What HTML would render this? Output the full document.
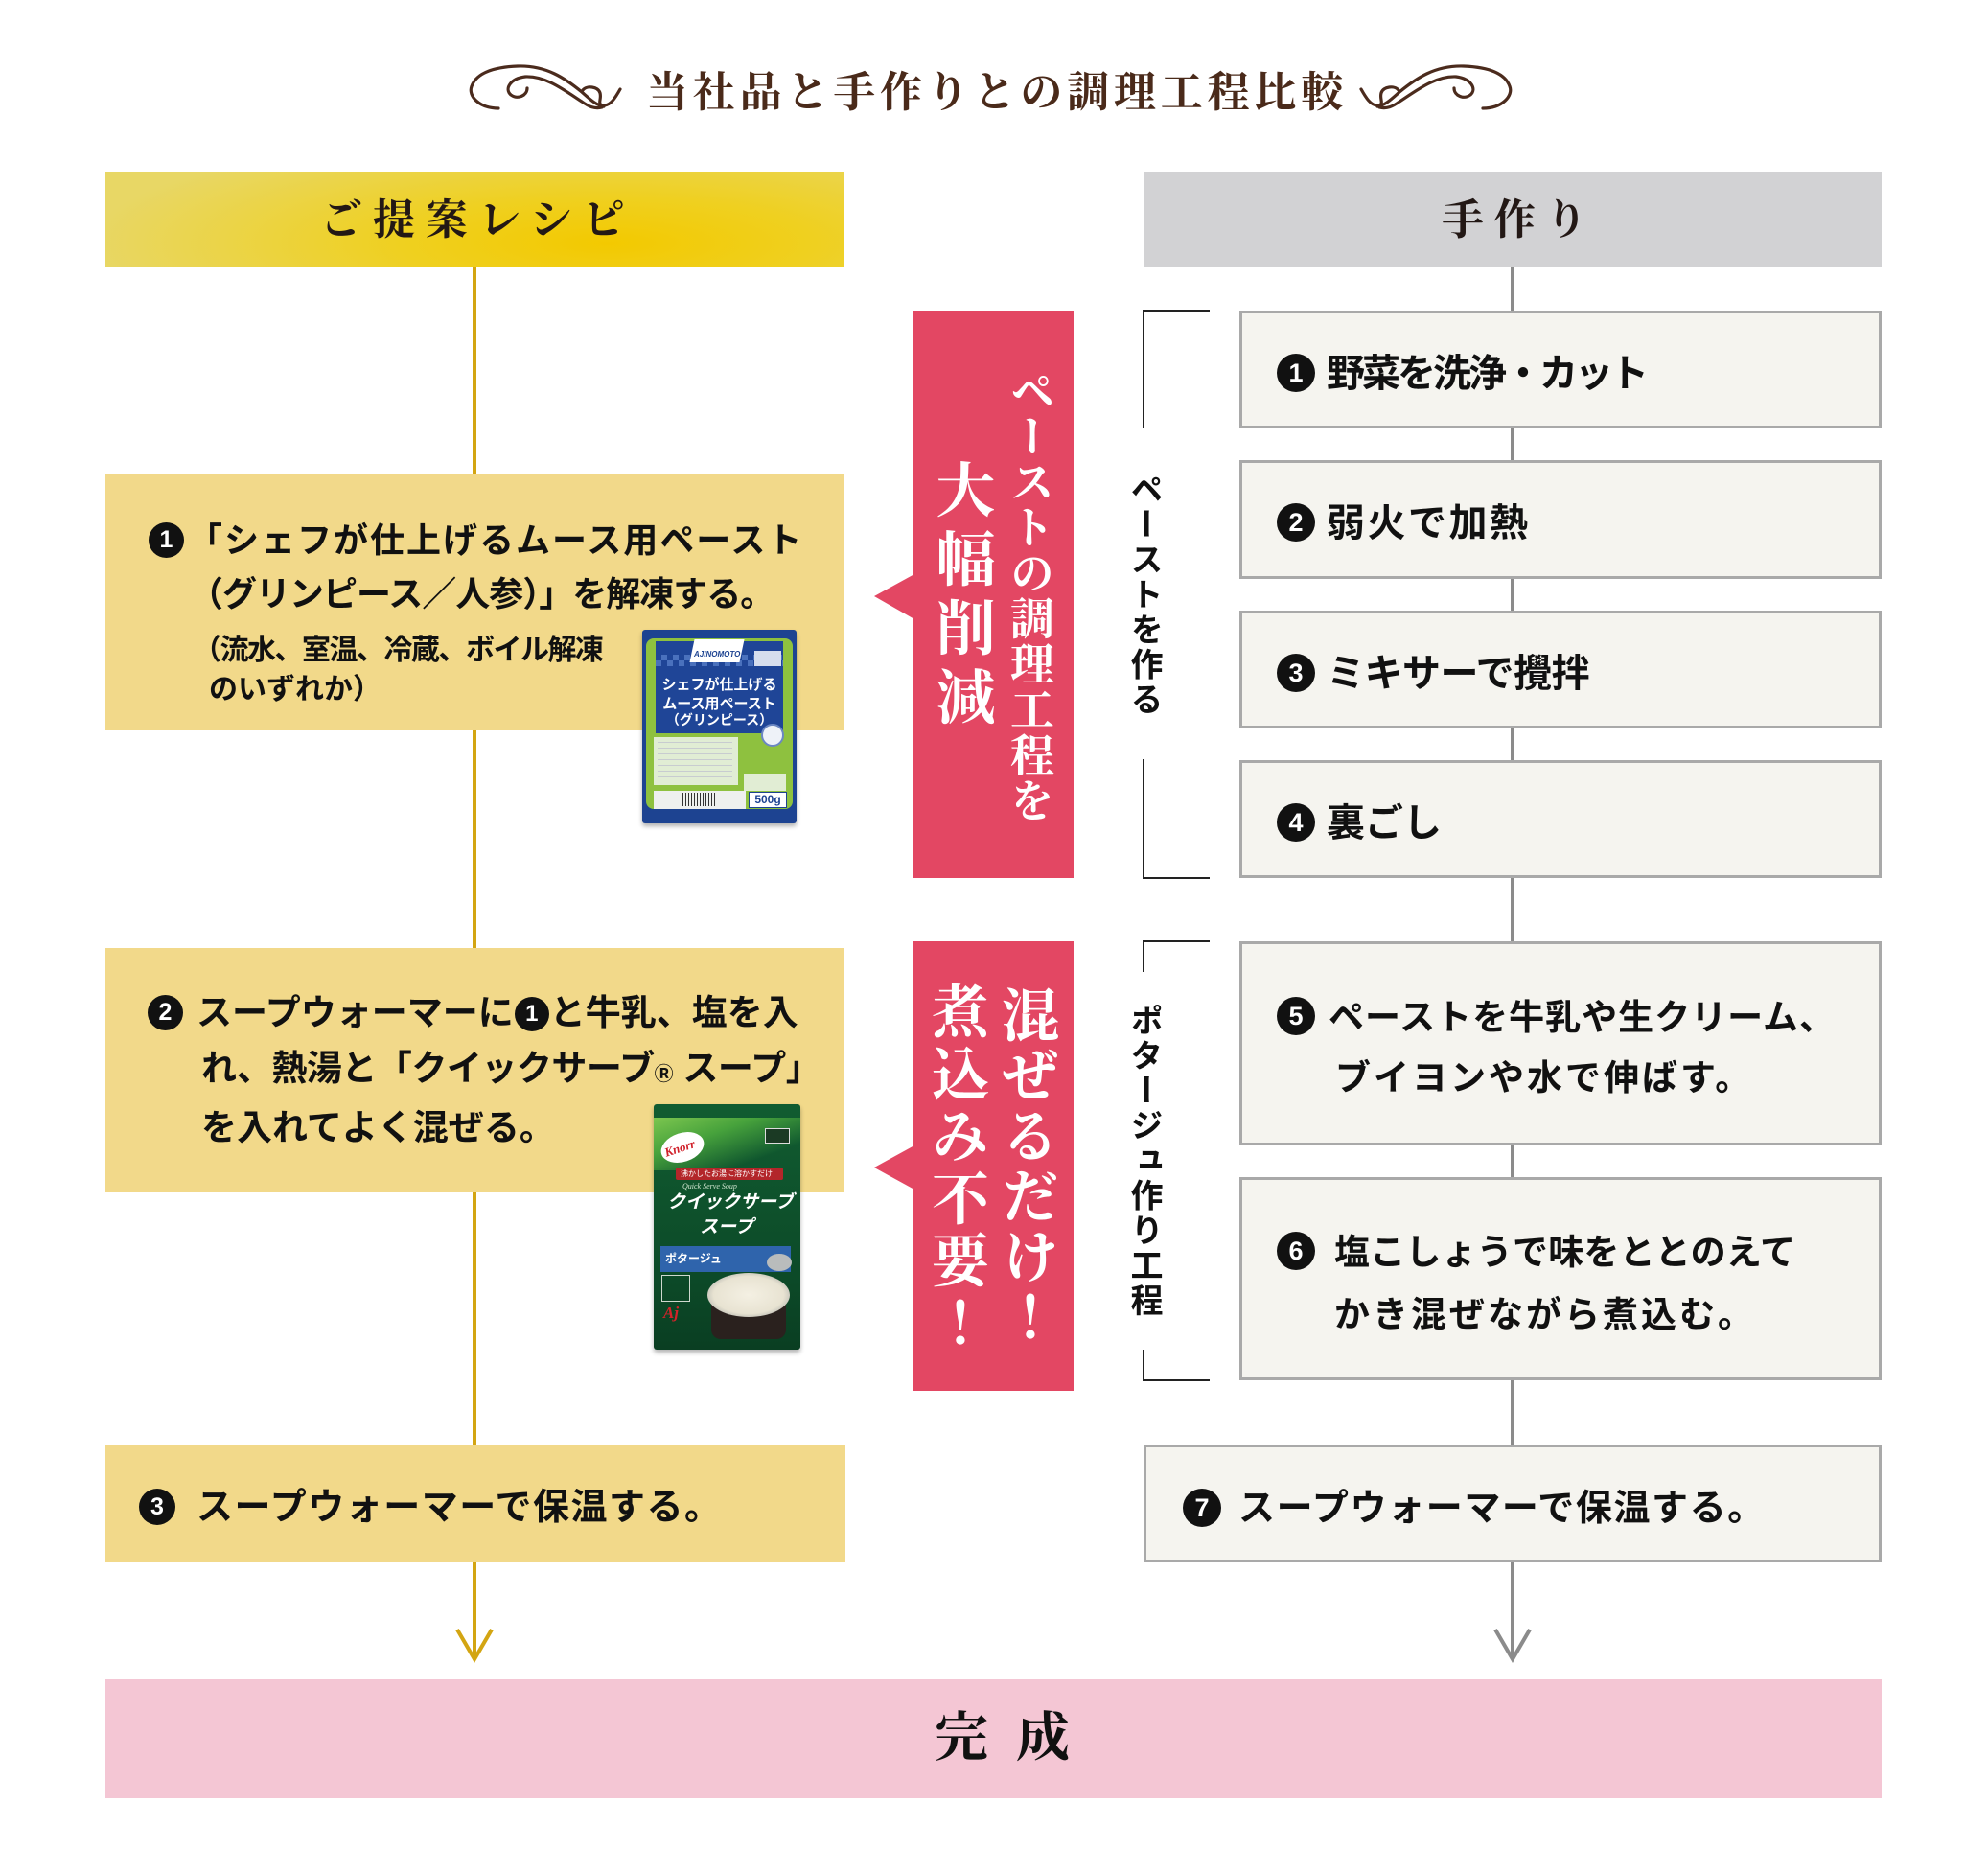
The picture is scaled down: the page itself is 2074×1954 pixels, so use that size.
<!DOCTYPE html>
<html lang="ja">
<head>
<meta charset="utf-8">
<style>
  html,body{margin:0;padding:0;background:#fff;}
  #wrap{position:relative;width:2074px;height:1954px;overflow:hidden;background:#fff;}
  .abs{position:absolute;}
  .box{position:absolute;box-sizing:border-box;}
  .t{position:absolute;white-space:nowrap;font-family:"Liberation Sans","Noto Sans CJK JP",sans-serif;font-weight:700;color:#111;}
  .s{position:absolute;white-space:nowrap;font-family:"Liberation Serif","Noto Serif CJK SC",serif;font-weight:700;}
  .v{position:absolute;writing-mode:vertical-rl;white-space:nowrap;}
  .rb{position:absolute;box-sizing:border-box;background:#f5f4ef;border:3px solid #a9a9a9;}
  .c{position:absolute;border-radius:50%;background:#111;color:#fff;text-align:center;font-family:"Liberation Sans",sans-serif;font-weight:700;}
  .ci{display:inline-block;border-radius:50%;background:#111;color:#fff;text-align:center;font-family:"Liberation Sans",sans-serif;font-weight:700;vertical-align:4px;margin:0 1px;}
</style>
</head>
<body>
<div id="wrap">

<svg class="abs" style="left:0;top:0" width="2074" height="1954" viewBox="0 0 2074 1954">
  <line x1="495" y1="279" x2="495" y2="1728" stroke="#d3a512" stroke-width="4"/>
  <polyline points="477,1700 495,1731 513,1700" fill="none" stroke="#d3a512" stroke-width="4"/>
  <line x1="1578" y1="279" x2="1578" y2="1728" stroke="#8b8b8b" stroke-width="4"/>
  <polyline points="1560,1700 1578,1731 1596,1700" fill="none" stroke="#8b8b8b" stroke-width="4"/>

  <polyline points="1262,324 1193,324 1193,446" fill="none" stroke="#222" stroke-width="2"/>
  <polyline points="1193,792 1193,916 1262,916" fill="none" stroke="#222" stroke-width="2"/>
  <polyline points="1262,982 1193,982 1193,1014" fill="none" stroke="#222" stroke-width="2"/>
  <polyline points="1193,1408 1193,1440 1262,1440" fill="none" stroke="#222" stroke-width="2"/>

  <polygon points="912,622 954,599 954,646" fill="#e34763"/>
  <polygon points="912,1218 954,1195 954,1241" fill="#e34763"/>

  <g fill="none" stroke="#4b2b1d" stroke-width="3.2" stroke-linecap="round">
    <path d="M 520,113 C 500,113 488,100 492,90 C 497,76 515,70 540,69 C 570,68 590,82 607,96 C 615,103 622,110 630,111"/>
    <path d="M 550,92 C 550,100 540,104 533,99 C 526,93 532,82 548,80 C 570,79 590,95 607,106 C 614,111 620,114 628,112"/>
    <path d="M 608,94 C 612,89 624,90 626,97 C 628,104 622,109 630,110 C 637,110 642,102 647,93"/>
  </g>
  <g transform="translate(2067,0) scale(-1,1)" fill="none" stroke="#4b2b1d" stroke-width="3.2" stroke-linecap="round">
    <path d="M 520,113 C 500,113 488,100 492,90 C 497,76 515,70 540,69 C 570,68 590,82 607,96 C 615,103 622,110 630,111"/>
    <path d="M 550,92 C 550,100 540,104 533,99 C 526,93 532,82 548,80 C 570,79 590,95 607,106 C 614,111 620,114 628,112"/>
    <path d="M 608,94 C 612,89 624,90 626,97 C 628,104 622,109 630,110 C 637,110 642,102 647,93"/>
  </g>
</svg>

<!-- title -->
<div class="s" style="left:674px;top:75px;font-size:44px;line-height:44px;letter-spacing:4.8px;color:#4a2a1a;">当社品と手作りとの調理工程比較</div>

<!-- headers -->
<div class="box" style="left:110px;top:179px;width:771px;height:100px;background:radial-gradient(ellipse 70% 120% at 68% 75%, #f3c900 0%, #efd020 40%, #e8d765 100%);"></div>
<div class="box" style="left:1193px;top:179px;width:770px;height:100px;background:#d2d2d4;"></div>
<div class="s" style="left:334px;top:208px;font-size:44px;line-height:44px;letter-spacing:11px;color:#231815;">ご提案レシピ</div>
<div class="s" style="left:1504px;top:208px;font-size:44px;line-height:44px;letter-spacing:10px;color:#231815;">手作り</div>

<!-- left boxes -->
<div class="box" style="left:110px;top:494px;width:771px;height:268px;background:#f2d98a;"></div>
<div class="box" style="left:110px;top:989px;width:771px;height:255px;background:#f2d98a;"></div>
<div class="box" style="left:110px;top:1507px;width:772px;height:123px;background:#f2d98a;"></div>

<!-- left box 1 text -->
<div class="c" style="left:155px;top:545px;width:37px;height:37px;line-height:37px;font-size:25px;">1</div>
<div class="t" style="left:196px;top:546px;font-size:36px;line-height:36px;letter-spacing:2px;">「シェフが仕上げるムース用ペースト</div>
<div class="t" style="left:197px;top:602px;font-size:36px;line-height:36px;letter-spacing:-1px;">（グリンピース／人参）」を解凍する。</div>
<div class="t" style="left:201px;top:664px;font-size:30px;line-height:30px;letter-spacing:-1.5px;">（流水、室温、冷蔵、ボイル解凍</div>
<div class="t" style="left:218px;top:705px;font-size:30px;line-height:30px;">のいずれか）</div>

<!-- left box 2 text -->
<div class="c" style="left:154px;top:1038px;width:37px;height:37px;line-height:37px;font-size:25px;">2</div>
<div class="t" style="left:205px;top:1038px;font-size:37px;line-height:37px;">スープウォーマーに<span class="ci" style="width:36px;height:36px;line-height:36px;font-size:24px;">1</span>と牛乳、塩を入</div>
<div class="t" style="left:210px;top:1096px;font-size:37px;line-height:37px;letter-spacing:-0.5px;">れ、熱湯と「クイックサーブ<span style="font-size:20px;letter-spacing:0;">Ⓡ</span> スープ」</div>
<div class="t" style="left:210px;top:1158px;font-size:37px;line-height:37px;">を入れてよく混ぜる。</div>

<!-- left box 3 text -->
<div class="c" style="left:145px;top:1553px;width:38px;height:38px;line-height:38px;font-size:25px;">3</div>
<div class="t" style="left:205px;top:1554px;font-size:38px;line-height:38px;letter-spacing:1.5px;">スープウォーマーで保温する。</div>

<!-- Ajinomoto package -->
<div class="abs" style="left:670px;top:657px;width:161px;height:202px;background:#1d4391;border-radius:3px;box-shadow:0 3px 5px rgba(0,0,0,.3);overflow:hidden;">
  <div class="abs" style="left:4px;top:9px;width:153px;height:178px;background:#8ec13f;border-radius:8px;"></div>
  <div class="abs" style="left:14px;top:12px;width:133px;height:96px;background:#1f4597;"></div>
  <div class="abs" style="left:14px;top:26px;width:133px;height:12px;background:repeating-conic-gradient(#4a71bd 0 25%, #1f4597 0 50%) 0 0/12px 12px;"></div>
  <div class="abs" style="left:52px;top:10px;width:52px;height:24px;background:#fff;transform:skewX(-12deg);"></div>
  <div class="abs" style="left:54px;top:21px;font:italic 700 8px 'Liberation Sans',sans-serif;color:#1d4391;">AJINOMOTO</div>
  <div class="abs" style="left:117px;top:22px;width:28px;height:16px;background:#d6deee;"></div>
  <div class="t" style="left:0;width:161px;text-align:center;top:50px;font-size:15px;line-height:16px;color:#fff;">シェフが仕上げる</div>
  <div class="t" style="left:0;width:161px;text-align:center;top:70px;font-size:15px;line-height:16px;color:#fff;">ムース用ペースト</div>
  <div class="t" style="left:0;width:161px;text-align:center;top:86px;font-size:14px;line-height:16px;color:#fff;">（グリンピース）</div>
  <div class="abs" style="left:124px;top:98px;width:20px;height:20px;border-radius:50%;background:#eef2f8;border:2px solid #6b87c2;"></div>
  <div class="abs" style="left:12px;top:112px;width:88px;height:50px;background:rgba(240,244,238,.85);"></div>
  <div class="abs" style="left:16px;top:117px;width:78px;height:40px;background:repeating-linear-gradient(180deg,#c8ccd0 0 1px,transparent 1px 6px);"></div>
  <div class="abs" style="left:106px;top:150px;width:44px;height:18px;background:rgba(240,244,238,.85);"></div>
  <div class="abs" style="left:12px;top:168px;width:96px;height:19px;background:#eef0ee;"></div>
  <div class="abs" style="left:42px;top:170px;width:36px;height:14px;background:repeating-linear-gradient(90deg,#333 0 1px,transparent 1px 3px);"></div>
  <div class="abs" style="left:111px;top:169px;width:40px;height:17px;background:#fff;border:1px solid #1d4391;box-sizing:border-box;font:700 12px 'Liberation Sans',sans-serif;color:#1d4391;text-align:center;line-height:15px;">500g</div>
</div>

<!-- Knorr package -->
<div class="abs" style="left:682px;top:1152px;width:153px;height:256px;background:linear-gradient(180deg,#115c31,#0c4a28 70%,#0a3e22);border-radius:3px;box-shadow:0 3px 5px rgba(0,0,0,.3);overflow:hidden;">
  <div class="abs" style="left:0;top:14px;width:153px;height:55px;background:linear-gradient(160deg,#7cc64f 0%,#47a23c 35%,rgba(16,90,48,0) 75%);"></div>
  <div class="abs" style="left:7px;top:30px;width:46px;height:30px;border-radius:50%;background:#fff;transform:rotate(-18deg);"></div>
  <div class="abs" style="left:11px;top:38px;font:italic 700 13px 'Liberation Serif',serif;color:#d0202a;transform:rotate(-18deg);">Knorr</div>
  <div class="abs" style="left:116px;top:25px;width:26px;height:16px;background:#1b3a24;border:1px solid #ddd;box-sizing:border-box;"></div>
  <div class="abs" style="left:23px;top:66px;width:112px;height:13px;background:#b3262a;border-radius:2px;"></div>
  <div class="t" style="left:28px;top:68px;font-size:8px;line-height:9px;color:#fff;font-weight:400;">沸かしたお湯に溶かすだけ</div>
  <div class="abs" style="left:30px;top:81px;font:italic 400 8px 'Liberation Serif',serif;color:#cfe5cf;">Quick Serve Soup</div>
  <div class="t" style="left:14px;top:93px;font-size:19px;line-height:20px;color:#fff;font-style:italic;">クイックサーブ</div>
  <div class="t" style="left:48px;top:119px;font-size:19px;line-height:20px;color:#fff;font-style:italic;">スープ</div>
  <div class="abs" style="left:7px;top:148px;width:136px;height:27px;background:#2f64ac;"></div>
  <div class="t" style="left:12px;top:154px;font-size:12px;line-height:14px;color:#fff;">ポタージュ</div>
  <div class="abs" style="left:60px;top:200px;width:78px;height:45px;background:#2a211e;border-radius:0 0 10px 10px;"></div>
  <div class="abs" style="left:56px;top:176px;width:86px;height:46px;border-radius:50%;background:radial-gradient(ellipse at 50% 50%,#f4f0e3 0%,#e8e3d2 60%,#a8aaa6 85%,#d0d2d0 100%);"></div>
  <div class="abs" style="left:118px;top:156px;width:26px;height:18px;border-radius:50%;background:#b9bcbc;"></div>
  <div class="abs" style="left:8px;top:178px;width:30px;height:28px;border:1px solid #cfd8cf;box-sizing:border-box;"></div>
  <div class="abs" style="left:10px;top:208px;font:italic 700 17px 'Liberation Serif',serif;color:#d2232a;">Aj</div>
</div>

<!-- red callout boxes -->
<div class="box" style="left:953px;top:324px;width:167px;height:592px;background:#e34763;"></div>
<div class="box" style="left:953px;top:982px;width:167px;height:469px;background:#e34763;"></div>
<div class="v s" style="left:1050px;top:384px;width:46px;font-size:46px;line-height:46px;letter-spacing:1.5px;color:#fff;">ペーストの調理工程を</div>
<div class="v s" style="left:970px;top:479px;width:62px;font-size:62px;line-height:62px;letter-spacing:10px;color:#fff;">大幅削減</div>
<div class="v s" style="left:1040px;top:1028px;width:60px;font-size:60px;line-height:60px;letter-spacing:3px;color:#fff;">混ぜるだけ！</div>
<div class="v s" style="left:967px;top:1024px;width:60px;font-size:60px;line-height:60px;letter-spacing:5px;color:#fff;">煮込み不要！</div>

<!-- bracket labels -->
<div class="v t" style="left:1176px;top:493px;width:34px;font-size:34px;line-height:34px;letter-spacing:2.5px;">ペーストを作る</div>
<div class="v t" style="left:1176px;top:1047px;width:34px;font-size:34px;line-height:34px;letter-spacing:2.5px;">ポタージュ作り工程</div>

<!-- right boxes -->
<div class="rb" style="left:1293px;top:324px;width:670px;height:123px;"></div>
<div class="rb" style="left:1293px;top:480px;width:670px;height:124px;"></div>
<div class="rb" style="left:1293px;top:637px;width:670px;height:123px;"></div>
<div class="rb" style="left:1293px;top:793px;width:670px;height:123px;"></div>
<div class="rb" style="left:1293px;top:982px;width:670px;height:213px;"></div>
<div class="rb" style="left:1293px;top:1228px;width:670px;height:212px;"></div>
<div class="rb" style="left:1193px;top:1507px;width:770px;height:123px;"></div>

<div class="c" style="left:1332px;top:369px;width:40px;height:40px;line-height:40px;font-size:27px;">1</div>
<div class="t" style="left:1384px;top:370px;font-size:40px;line-height:40px;letter-spacing:-3px;">野菜を洗浄・カット</div>
<div class="c" style="left:1332px;top:525px;width:40px;height:40px;line-height:40px;font-size:27px;">2</div>
<div class="t" style="left:1384px;top:526px;font-size:40px;line-height:40px;letter-spacing:2.5px;">弱火で加熱</div>
<div class="c" style="left:1332px;top:682px;width:40px;height:40px;line-height:40px;font-size:27px;">3</div>
<div class="t" style="left:1384px;top:683px;font-size:40px;line-height:40px;letter-spacing:-0.5px;">ミキサーで攪拌</div>
<div class="c" style="left:1332px;top:838px;width:40px;height:40px;line-height:40px;font-size:27px;">4</div>
<div class="t" style="left:1384px;top:839px;font-size:40px;line-height:40px;">裏ごし</div>

<div class="c" style="left:1332px;top:1040px;width:40px;height:40px;line-height:40px;font-size:27px;">5</div>
<div class="t" style="left:1386px;top:1043px;font-size:37px;line-height:37px;letter-spacing:1px;">ペーストを牛乳や生クリーム、</div>
<div class="t" style="left:1393px;top:1106px;font-size:37px;line-height:37px;letter-spacing:3px;">ブイヨンや水で伸ばす。</div>

<div class="c" style="left:1332px;top:1285px;width:40px;height:40px;line-height:40px;font-size:27px;">6</div>
<div class="t" style="left:1392px;top:1288px;font-size:37px;line-height:37px;letter-spacing:0.2px;">塩こしょうで味をととのえて</div>
<div class="t" style="left:1392px;top:1353px;font-size:37px;line-height:37px;letter-spacing:3px;">かき混ぜながら煮込む。</div>

<div class="c" style="left:1234px;top:1553px;width:40px;height:40px;line-height:40px;font-size:27px;">7</div>
<div class="t" style="left:1292px;top:1555px;font-size:38px;line-height:38px;letter-spacing:1.6px;">スープウォーマーで保温する。</div>

<!-- bottom -->
<div class="box" style="left:110px;top:1752px;width:1853px;height:124px;background:#f4c6d4;"></div>
<div class="s" style="left:975px;top:1786px;font-size:56px;line-height:56px;letter-spacing:29px;color:#111;">完成</div>

</div>
</body>
</html>
